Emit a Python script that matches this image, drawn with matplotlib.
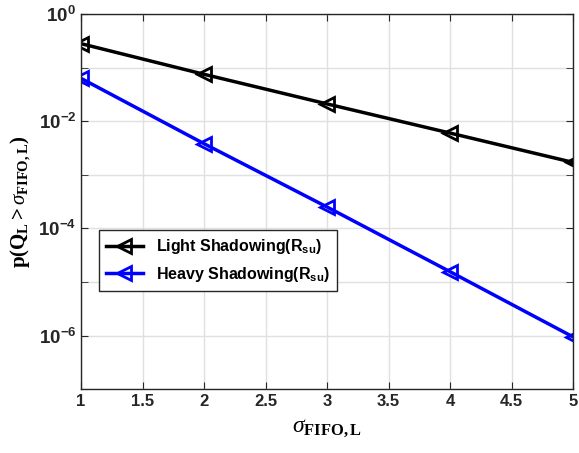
import matplotlib
matplotlib.use("Agg")
import matplotlib.pyplot as plt

# sigma_FIFO,L values and overflow probabilities
sigma = [1, 2, 3, 4, 5]
light = [0.28, 0.075, 0.021, 0.0060, 0.0017]
heavy = [0.063, 0.0038, 0.00025, 1.55e-5, 9.4e-7]

plt.rcParams["font.family"] = ["Liberation Sans", "DejaVu Sans"]
plt.rcParams["mathtext.fontset"] = "custom"
plt.rcParams["mathtext.rm"] = "Liberation Serif"
plt.rcParams["mathtext.it"] = "Liberation Serif:italic"
plt.rcParams["mathtext.bf"] = "Liberation Serif:bold"
plt.rcParams["mathtext.sf"] = "Liberation Sans:bold"

fig = plt.figure(figsize=(5.79, 4.53), dpi=100)
ax = fig.add_axes([0.140, 0.141, 0.850, 0.828])

ax.semilogy(sigma, light, color="black", lw=2.5, marker="<", ms=10,
            mfc="none", mew=2, label=r"Light Shadowing(R$_{\mathsf{su}}$)")
ax.semilogy(sigma, heavy, color="#0000ff", lw=2.5, marker="<", ms=10,
            mfc="none", mew=2, label=r"Heavy Shadowing(R$_{\mathsf{su}}$)")

ax.set_xlim(1, 5)
ax.set_ylim(1e-7, 1e0)
ax.set_xticks([1, 1.5, 2, 2.5, 3, 3.5, 4, 4.5, 5])
ax.set_xticklabels(["1", "1.5", "2", "2.5", "3", "3.5", "4", "4.5", "5"])
ax.set_yticks([10.0**k for k in range(-7, 1)], minor=True)
ax.set_yticks([1e-6, 1e-4, 1e-2, 1e0])
ax.set_yticklabels([r"$\mathsf{10^{-6}}$", r"$\mathsf{10^{-4}}$",
                    r"$\mathsf{10^{-2}}$", r"$\mathsf{10^{0}}$"])
ax.yaxis.set_minor_formatter(plt.NullFormatter())

ax.grid(True, which="major", color="#e0e0e0", lw=1)
ax.grid(True, which="minor", axis="y", color="#e0e0e0", lw=1)
ax.set_axisbelow(True)
ax.tick_params(which="both", direction="in", top=True, right=True,
               labelsize=12, colors="#262626", length=5)
ax.tick_params(axis="y", labelsize=13.5)
for lab in ax.get_xticklabels():
    lab.set_fontweight("bold")
for sp in ax.spines.values():
    sp.set_color("#262626")
    sp.set_linewidth(1)

ax.set_xlabel(r"$\sigma_{\mathbf{FIFO,L}}$", fontsize=17, labelpad=6)
ax.set_ylabel(r"$\mathbf{p(Q_L>}\sigma_{\mathbf{FIFO,L}}\mathbf{)}$",
              fontsize=15, labelpad=4)

leg = ax.legend(loc="lower left", bbox_to_anchor=(0.02, 0.24),
                prop={"family": "Liberation Sans", "weight": "bold", "size": 11.5},
                fancybox=False, edgecolor="#262626", framealpha=1,
                handlelength=2.3, borderpad=0.45, labelspacing=0.55)
leg.get_frame().set_linewidth(1)

fig.savefig("out.png", dpi=100)
